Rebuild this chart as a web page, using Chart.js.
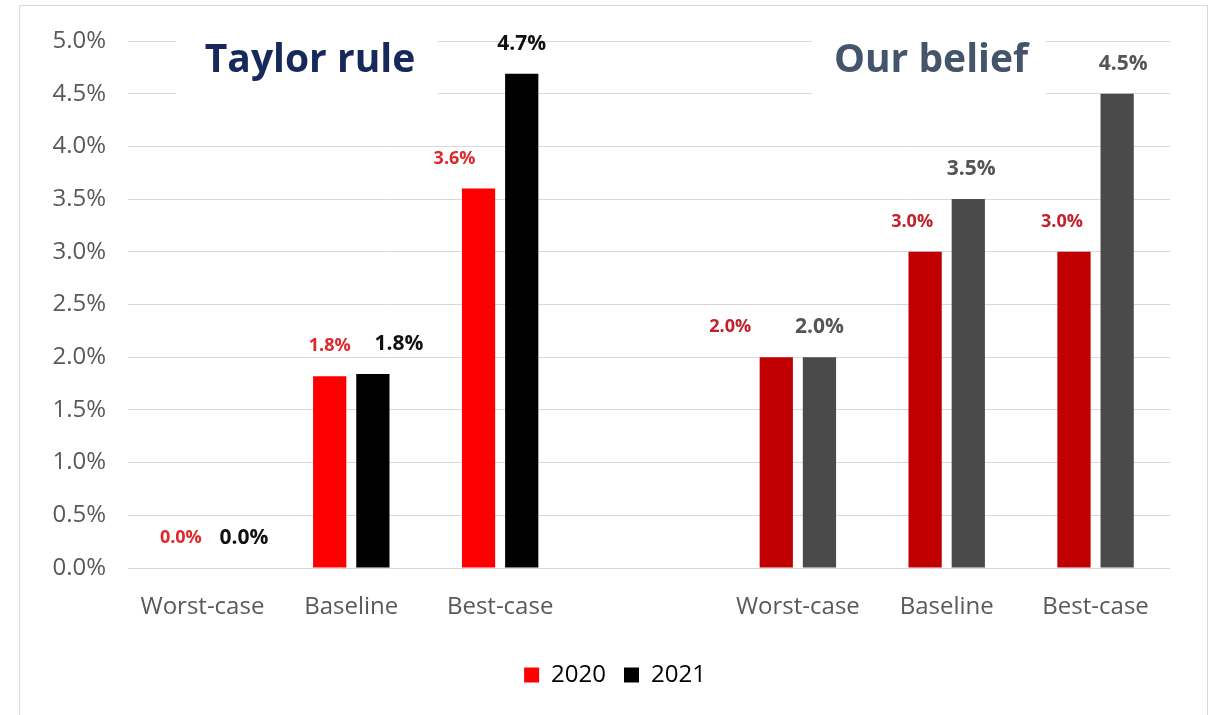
<!DOCTYPE html>
<html>
<head>
<meta charset="utf-8">
<script src="https://cdn.jsdelivr.net/npm/chart.js@4.4.1/dist/chart.umd.min.js"></script>
<style>
  body { margin: 0; background: #fff; }
  #wrap { width: 1211px; height: 715px; position: relative; }
</style>
</head>
<body>
<div id="wrap"><canvas id="chart" width="1211" height="715"></canvas></div>
<script>
// categories: 3 Taylor rule scenarios, an empty spacer, 3 "our belief" scenarios
const categories = ['Worst-case', 'Baseline', 'Best-case', '', 'Worst-case', 'Baseline', 'Best-case'];
const seriesNames = ['2020', '2021'];
const values2020 = [0.0, 1.82, 3.6, null, 2.0, 3.0, 3.0];
const values2021 = [0.0, 1.84, 4.69, null, 2.0, 3.5, 4.5];
const yTicks = [0, 0.5, 1, 1.5, 2, 2.5, 3, 3.5, 4, 4.5, 5];

const colors2020 = ['#ff0000', '#ff0000', '#ff0000', null, '#c00000', '#c00000', '#c00000'];
const colors2021 = ['#000000', '#000000', '#000000', null, '#4a4a4a', '#4a4a4a', '#4a4a4a'];
const labelColors2020 = ['#e0282c', '#e0282c', '#e0282c', null, '#c4202a', '#c4202a', '#c4202a'];
const labelColors2021 = ['#111111', '#111111', '#111111', null, '#555555', '#555555', '#555555'];
// small horizontal nudges the original author gave some labels
const nudge2020 = [0, 0, -24, 0, -46, -13, -12];
const nudge2021 = [20, 26, 0, 0, 0, 3, 6];

const FONT = '"Open Sans", Lato, sans-serif';

const framePlugin = {
  id: 'frame',
  beforeDraw(chart) {
    const c = chart.ctx;
    c.save();
    c.fillStyle = '#fff';
    c.fillRect(0, 0, chart.width, chart.height);
    c.strokeStyle = '#d9d9d9';
    c.lineWidth = 1;
    c.strokeRect(19.5, 5.5, 1188, 800);
    c.restore();
  },
  afterLayout(chart) {
    // legend sits a little right of centre in the original
    chart.legend.left += 30;
    chart.legend.right += 30;
  }
};

const titlesPlugin = {
  id: 'titles',
  beforeDatasetsDraw(chart) {
    const c = chart.ctx;
    c.save();
    c.fillStyle = '#fff';
    c.fillRect(176, 26, 262, 80);
    c.fillRect(812, 26, 234, 80);
    c.font = 'bold 39px ' + FONT;
    c.textAlign = 'center';
    c.textBaseline = 'middle';
    c.fillStyle = '#17285a';
    c.fillText('Taylor rule', 310, 61);
    c.fillStyle = '#44546a';
    c.fillText('Our belief', 931, 61);
    c.restore();
  }
};

const valueLabels = {
  id: 'valueLabels',
  afterDatasetsDraw(chart) {
    const c = chart.ctx;
    c.save();
    c.textAlign = 'center';
    c.textBaseline = 'middle';
    chart.data.datasets.forEach((ds, i) => {
      const meta = chart.getDatasetMeta(i);
      meta.data.forEach((bar, j) => {
        const v = ds.data[j];
        if (v === null) return;
        const isRed = i === 0;
        c.font = isRed ? 'bold 18px ' + FONT : 'bold 21px ' + FONT;
        c.fillStyle = isRed ? labelColors2020[j] : labelColors2021[j];
        const dx = isRed ? nudge2020[j] : nudge2021[j];
        c.fillText(v.toFixed(1) + '%', bar.x + dx, bar.y - 30);
      });
    });
    c.restore();
  }
};

const ctx = document.getElementById('chart').getContext('2d');
new Chart(ctx, {
  type: 'bar',
  data: {
    labels: categories,
    datasets: [
      { label: seriesNames[0], data: values2020, backgroundColor: colors2020 },
      { label: seriesNames[1], data: values2021, backgroundColor: colors2021 }
    ]
  },
  plugins: [framePlugin, titlesPlugin, valueLabels],
  options: {
    responsive: false,
    animation: false,
    layout: { padding: { left: 0, right: 41, top: 41, bottom: 18 } },
    datasets: { bar: { categoryPercentage: 0.58, barPercentage: 0.77 } },
    scales: {
      x: {
        grid: { display: false },
        border: { display: false },
        ticks: { color: '#595959', font: { family: FONT, size: 24 }, padding: 17, maxRotation: 0, autoSkip: false },
        afterFit(scale) { scale.height = 77; }
      },
      y: {
        min: 0,
        max: 5,
        afterBuildTicks(scale) { scale.ticks = yTicks.map(v => ({ value: v })); },
        grid: { color: '#d9d9d9', drawTicks: false },
        border: { display: false },
        ticks: {
          color: '#595959',
          font: { family: FONT, size: 24 },
          padding: 22,
          callback: v => v.toFixed(1) + '%'
        },
        afterFit(scale) { scale.width = 128; }
      }
    },
    plugins: {
      tooltip: { enabled: false },
      legend: {
        position: 'bottom',
        labels: {
          color: '#595959',
          font: { family: FONT, size: 24 },
          boxWidth: 15,
          boxHeight: 15,
          padding: 18,
          generateLabels: () => seriesNames.map((name, i) => ({
            text: name,
            fillStyle: i === 0 ? '#ff0000' : '#000000',
            strokeStyle: 'transparent',
            lineWidth: 0,
            datasetIndex: i
          }))
        }
      }
    }
  }
});
</script>
</body>
</html>
